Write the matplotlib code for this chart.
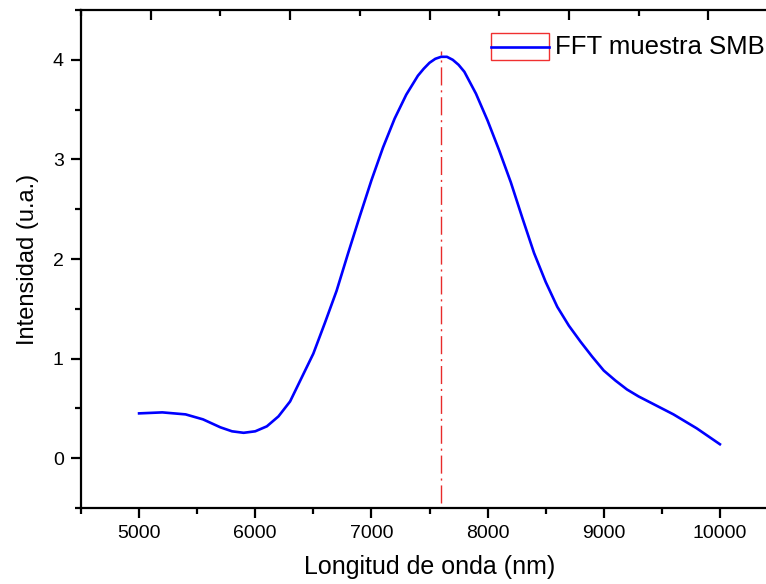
#!/usr/bin/env python3
"""FFT spectrum of the SMB sample (recreated chart)."""

import matplotlib
matplotlib.use('Agg')
import matplotlib.pyplot as plt
from matplotlib.patches import Rectangle
from matplotlib.lines import Line2D
from matplotlib.ticker import MultipleLocator

# Data
wavelength = [5000, 5200, 5400, 5550, 5700, 5800, 5900, 6000, 6100, 6200,
              6300, 6400, 6500, 6600, 6700, 6800, 6900, 7000, 7100, 7200,
              7300, 7400, 7450, 7500, 7550, 7600, 7650, 7700, 7750, 7800,
              7900, 8000, 8100, 8200, 8300, 8400, 8500, 8600, 8700, 8800,
              8900, 9000, 9100, 9200, 9300, 9400, 9500, 9600, 9700, 9800,
              9900, 10000]
intensity = [0.45, 0.46, 0.44, 0.39, 0.31, 0.27, 0.255, 0.27, 0.32, 0.42,
             0.57, 0.81, 1.05, 1.36, 1.68, 2.06, 2.43, 2.79, 3.12, 3.41,
             3.65, 3.84, 3.91, 3.97, 4.01, 4.03, 4.03, 4.00, 3.95, 3.88,
             3.66, 3.39, 3.09, 2.77, 2.41, 2.06, 1.77, 1.52, 1.33, 1.17,
             1.02, 0.88, 0.78, 0.69, 0.62, 0.56, 0.50, 0.44, 0.37, 0.30,
             0.22, 0.14]
peak_x = 7600
legend_label = 'FFT muestra SMB'

W, H = 766, 584
plt.rcParams['font.family'] = ['Liberation Sans', 'DejaVu Sans']

fig = plt.figure(figsize=(W / 100, H / 100), dpi=100)


def fx(px):
    return px / W


def fy(py):
    return 1 - py / H


# axes box in pixels: left 81, top 10, bottom 508, right (off-figure) 778
ax = fig.add_axes([fx(81), fy(508), (778 - 81) / W, (508 - 10) / H])

ax.plot(wavelength, intensity, color='#0000ff', lw=1.9, zorder=3,
        solid_joinstyle='round')
ax.plot([peak_x, peak_x], [-0.45, 4.09], color='#e82a2a', lw=1.0,
        linestyle=(0, (13, 3.5, 1.5, 3.5)), zorder=2)

ax.set_xlim(4500, 10500)
ax.set_ylim(-0.5, 4.5)
ax.xaxis.set_major_locator(MultipleLocator(1000))
ax.xaxis.set_minor_locator(MultipleLocator(500))
ax.yaxis.set_major_locator(MultipleLocator(1))
ax.yaxis.set_minor_locator(MultipleLocator(0.5))
ax.set_xticks([5000, 6000, 7000, 8000, 9000, 10000])

for s in ax.spines.values():
    s.set_linewidth(1.6)
ax.spines['right'].set_visible(False)
ax.tick_params(which='major', direction='out', length=7.5, width=1.6,
               labelsize=14, pad=5, top=False, right=False)
ax.tick_params(which='minor', direction='out', length=4, width=1.6,
               top=False, right=False)

ax.set_xlabel('Longitud de onda (nm)', fontsize=18, labelpad=9)
ax.set_ylabel('Intensidad (u.a.)', fontsize=17, labelpad=10)

# top axis carries its own inward ticks, no labels
top = ax.twiny()
top.set_xlim(ax.get_xlim())
top.xaxis.set_major_locator(MultipleLocator(1200, offset=300))
top.xaxis.set_minor_locator(MultipleLocator(600, offset=300))
top.tick_params(which='major', direction='in', length=7.5, width=1.6,
                labeltop=False)
top.tick_params(which='minor', direction='in', length=4, width=1.6)
for s in top.spines.values():
    s.set_visible(False)

# legend drawn by hand: red box around the line sample only
fig.patches.append(Rectangle((fx(491), fy(60)), (549 - 491) / W, (60 - 33) / H,
                             transform=fig.transFigure, fill=False,
                             edgecolor='#f03030', lw=1.0))
fig.lines.append(Line2D([fx(491), fx(549)], [fy(46.5), fy(46.5)],
                        transform=fig.transFigure, color='#0000ff', lw=1.9))
fig.text(fx(555), fy(46.5), legend_label, fontsize=18.5, va='center', ha='left')

fig.savefig('out.png', dpi=100)
